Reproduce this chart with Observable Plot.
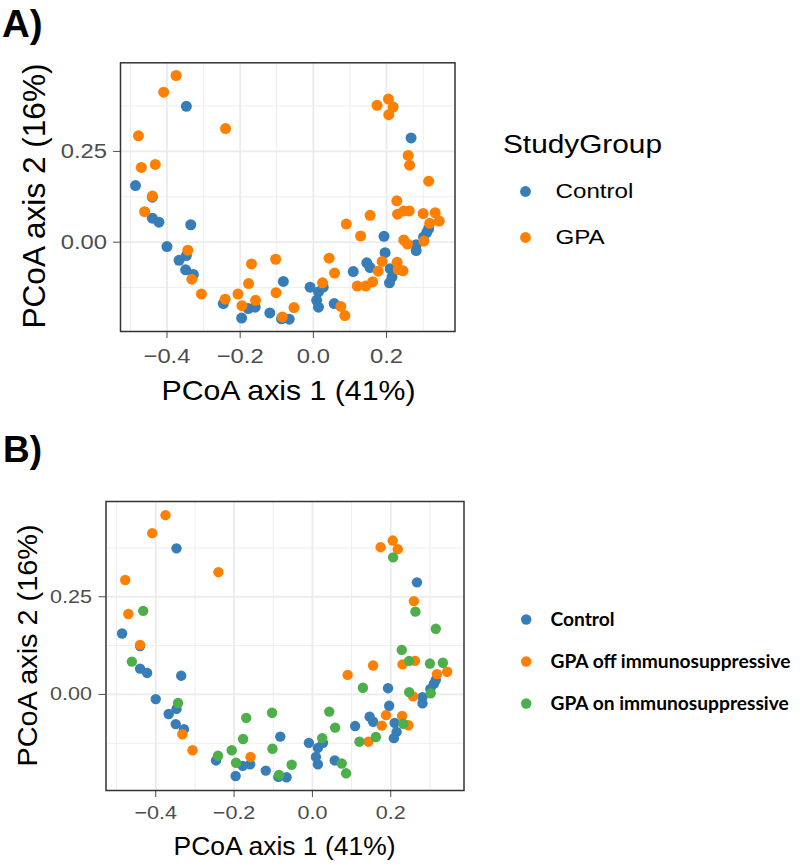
<!DOCTYPE html>
<html><head><meta charset="utf-8">
<script src="https://cdn.jsdelivr.net/npm/d3@7"></script>
<script src="https://cdn.jsdelivr.net/npm/@observablehq/plot@0.6"></script>
<style>
html,body{margin:0;padding:0;background:#fff;}
#page{position:relative;width:800px;height:866px;overflow:hidden;font-family:"Liberation Sans",Arial,sans-serif;}
#page > svg{position:absolute;}
</style></head><body><div id="page"></div>
<script>
// ---------- data ----------
const controlX = [-0.347,0.267,-0.486,-0.440,-0.440,-0.422,-0.335,-0.400,-0.367,-0.347,-0.349,-0.328,-0.246,-0.196,-0.178,-0.159,-0.119,-0.082,-0.087,-0.066,-0.009,0.014,0.027,0.009,0.014,0.057,0.109,0.146,0.155,0.193,0.196,0.210,0.215,0.208,0.281,0.281,0.301,0.310,0.315];
const controlY = [0.374,0.287,0.156,0.124,0.066,0.055,0.048,-0.012,-0.050,-0.037,-0.076,-0.089,-0.169,-0.209,-0.183,-0.179,-0.195,-0.108,-0.211,-0.212,-0.124,-0.137,-0.124,-0.160,-0.179,-0.169,-0.081,-0.057,-0.070,0.016,-0.029,-0.073,-0.096,-0.112,-0.007,-0.023,0.014,0.027,0.037];

const gpaOffX = [-0.375,-0.409,-0.240,-0.478,-0.470,-0.440,-0.332,-0.306,-0.158,0.090,0.155,0.143,0.177,0.188,0.174,0.205,0.218,0.259,0.230,0.262,0.344,0.318,0.257,0.229,0.245];
const gpaOffY = [0.459,0.413,0.313,0.293,0.206,0.127,-0.102,-0.143,-0.160,0.050,0.074,-0.121,-0.080,-0.053,0.377,0.394,0.372,0.239,0.077,0.086,0.058,0.052,-0.005,-0.055,-0.079];

const gpaOnX = [-0.432,-0.461,-0.343,-0.241,-0.206,-0.195,-0.177,-0.169,-0.103,-0.102,-0.085,-0.053,0.025,0.043,0.058,0.075,0.086,0.129,0.120,0.162,0.206,0.263,0.315,0.228,0.247,0.300,0.333,0.247,0.302,0.232];
const gpaOnY = [0.214,0.084,-0.022,-0.157,-0.143,-0.175,-0.114,-0.060,-0.047,-0.139,-0.206,-0.180,-0.112,-0.044,-0.085,-0.177,-0.202,0.017,-0.121,-0.109,0.351,0.212,0.168,0.114,0.086,0.079,0.081,0.006,0.003,-0.075];

const groupsA = ["Control", "GPA"];
const groupsB = ["Control", "GPA off immunosuppressive", "GPA on immunosuppressive"];
const colorsA = ["#377eb8", "#ff7f00"];
const colorsB = ["#377eb8", "#ff7f00", "#4daf4a"];

const xTicks = [-0.4, -0.2, 0, 0.2];
const yTicks = [0, 0.25];
const xMinor = [-0.5, -0.3, -0.1, 0.1, 0.3];
const yMinor = [-0.125, 0.125, 0.375];
const xDomain = [-0.527, 0.387];
const yDomain = [-0.246, 0.494];

const xTitle = "PCoA axis 1 (41%)";
const yTitle = "PCoA axis 2 (16%)";
const legendTitleA = "StudyGroup";

// ---------- build rows ----------
const rows = (xs, ys, g) => xs.map((x, i) => ({x, y: ys[i], group: g}));
const control = rows(controlX, controlY, groupsA[0]);
const dataA = [...control, ...rows(gpaOffX, gpaOffY, groupsA[1]), ...rows(gpaOnX, gpaOnY, groupsA[1])];
const dataB = [...control, ...rows(gpaOffX, gpaOffY, groupsB[1]), ...rows(gpaOnX, gpaOnY, groupsB[2])];

const page = document.getElementById("page");
const FONT = "'Liberation Sans', Arial, sans-serif";

function stretchTexts(svg, k) {
  svg.querySelectorAll("text").forEach(t => {
    const L = t.getComputedTextLength();
    t.setAttribute("textLength", (L * k).toFixed(1));
    t.setAttribute("lengthAdjust", "spacingAndGlyphs");
  });
}

function panel(o) {
  const svg = Plot.plot({
    width: o.W, height: o.H,
    marginLeft: o.ml, marginRight: o.mr, marginTop: o.mt, marginBottom: o.mb,
    style: {fontFamily: FONT, fontSize: o.fs + "px", color: "#4d4d4d", background: "transparent", overflow: "visible"},
    x: {domain: xDomain, ticks: xTicks, tickFormat: d3.format(".1f"), tickSize: 7, tickPadding: o.padX, label: null},
    y: {domain: yDomain, ticks: yTicks, tickFormat: d3.format(".2f"), tickSize: 7, tickPadding: o.padY, label: null},
    color: {domain: o.groups, range: o.colors},
    marks: [
      Plot.ruleX(xMinor, {stroke: "#ebebeb", strokeWidth: 0.9}),
      Plot.ruleY(yMinor, {stroke: "#ebebeb", strokeWidth: 0.9}),
      Plot.ruleX(xTicks, {stroke: "#ebebeb", strokeWidth: 1.8}),
      Plot.ruleY(yTicks, {stroke: "#ebebeb", strokeWidth: 1.8}),
      Plot.dot(o.data, {x: "x", y: "y", fill: "group", r: o.r}),
      Plot.frame({stroke: "#333333", strokeWidth: 1.5})
    ]
  });
  svg.style.left = o.left + "px";
  svg.style.top = o.top + "px";
  page.appendChild(svg);
  stretchTexts(svg, 1.16);
  return svg;
}

function legend(o) {
  const items = o.groups.map(g => ({g}));
  const svg = Plot.plot({
    width: o.W, height: o.H, margin: 0,
    style: {fontFamily: o.font, fontSize: o.fs + "px", color: "#000", background: "transparent", overflow: "visible"},
    x: {domain: [0, 1], range: o.xr, axis: null},
    y: {type: "point", domain: o.groups, range: o.yr, padding: 0, axis: null},
    color: {domain: o.groups, range: o.colors},
    marks: [
      Plot.dot(items, {x: () => 0, y: "g", fill: "g", r: o.r}),
      Plot.text(items, {x: () => 1, y: "g", text: "g", textAnchor: "start", fill: "#000", fontWeight: o.weight, fontSize: o.fs})
    ]
  });
  svg.style.left = o.left + "px";
  svg.style.top = o.top + "px";
  page.appendChild(svg);
  let k = o.k;
  if (o.targetFirst) {
    const t0 = svg.querySelector("text");
    k = o.targetFirst / t0.getComputedTextLength();
  }
  stretchTexts(svg, k);
  return svg;
}

// Panel A
panel({data: dataA, groups: groupsA, colors: colorsA, left: 0, top: 0, W: 470, H: 380,
  ml: 120, mr: 15.5, mt: 62.3, mb: 49, fs: 20.5, padX: 10, padY: 6.5, r: 5.5});
legend({groups: groupsA, colors: colorsA, left: 480, top: 160, W: 220, H: 100,
  xr: [45, 75], yr: [30.7, 76.7], fs: 21, font: FONT, weight: "normal", r: 5.4, k: 1.15});

// Panel B
panel({data: dataB, groups: groupsB, colors: colorsB, left: 0, top: 430, W: 480, H: 400,
  ml: 105.5, mr: 16.5, mt: 71, mb: 40, fs: 18.6, padX: 8, padY: 7, r: 5.2});
legend({groups: groupsB, colors: colorsB, left: 480, top: 580, W: 320, H: 150,
  xr: [45.7, 70], yr: [39, 123], fs: 19, font: "Lato, 'Open Sans', sans-serif", weight: "bold", r: 5.2, targetFirst: 64});

// ---------- titles overlay ----------
const ov = d3.create("svg").attr("width", 800).attr("height", 866)
  .style("left", "0px").style("top", "0px").style("pointer-events", "none")
  .style("font-family", FONT);
function txt(s, x, y, fs, opts = {}) {
  const t = ov.append("text").attr("x", x).attr("y", y).attr("font-size", fs)
    .attr("fill", "#000").attr("text-anchor", opts.anchor || "start").text(s);
  if (opts.weight) t.attr("font-weight", opts.weight);
  if (opts.rotate) t.attr("x", 0).attr("y", 0).attr("transform", `translate(${x},${y}) rotate(-90)`);
  if (opts.len) t.attr("textLength", opts.len).attr("lengthAdjust", "spacingAndGlyphs");
  return t;
}
txt("A)", 2, 36.5, 38.5, {weight: "bold"});
txt("B)", 3, 462, 37, {weight: "bold"});
txt(legendTitleA, 503, 153, 25.6, {len: 159});
txt(xTitle, 288.5, 400, 28, {anchor: "middle", len: 254});
txt(yTitle, 45, 196, 31, {anchor: "middle", rotate: true, len: 265});
txt(xTitle, 284.5, 855, 25, {anchor: "middle", len: 222});
txt(yTitle, 37, 645.5, 28, {anchor: "middle", rotate: true, len: 242});
page.appendChild(ov.node());
</script>
</body></html>
